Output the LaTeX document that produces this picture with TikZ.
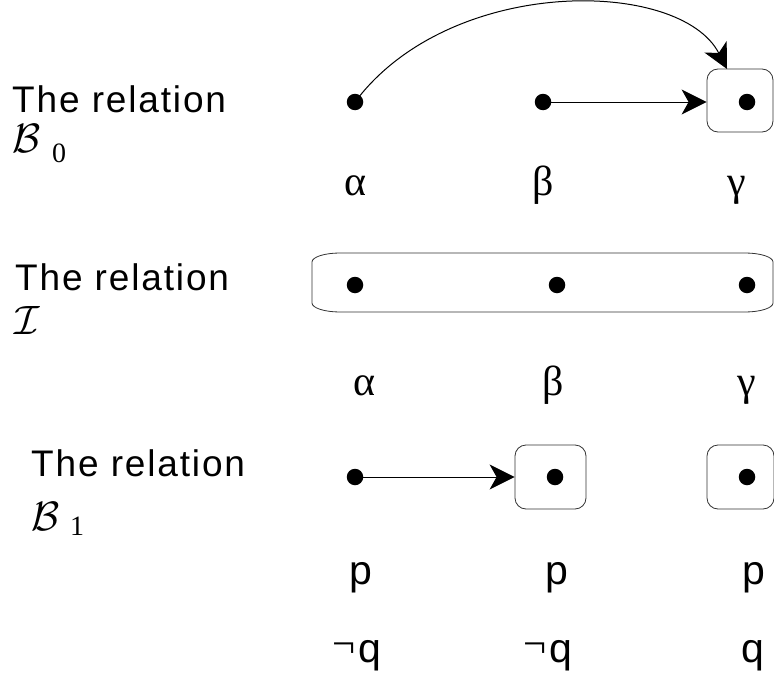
\RequirePackage{fix-cm}
\documentclass[tikz,border=0pt]{standalone}
\usepackage{fontspec}
\setmainfont{Liberation Sans}
\newfontfamily\grk{Liberation Serif}
\newfontfamily\relfont[LetterSpace=5]{Liberation Sans}
\usetikzlibrary{arrows.meta}
\tikzset{
  dot/.style={circle,fill=black,inner sep=0pt,minimum size=16.5pt},
  relt/.style={font=\relfont\fontsize{37}{40}\selectfont,anchor=base west,inner sep=0pt,text depth=0pt},
  calt/.style={font=\fontsize{41}{44}\selectfont,anchor=base west,inner sep=0pt,text height=24pt},
  subt/.style={font=\grk\fontsize{28}{30}\selectfont,anchor=base west,inner sep=0pt},
  glab/.style={font=\grk\fontsize{42}{46}\selectfont,anchor=base,inner sep=0pt},
  plab/.style={font=\fontsize{41}{44}\selectfont,anchor=base,inner sep=0pt},
  sbox/.style={draw=black!80,line width=0.8pt,rounded corners=11pt,inner sep=0pt},
  arr/.style={line width=1pt,-{Stealth[length=25pt,width=25pt,inset=7pt]}},
}
\newcommand{\negq}{{\grk\raisebox{5pt}{¬}}\kern3pt q}
\begin{document}
\begin{tikzpicture}[x=1pt,y=-1pt]
\useasboundingbox (0,0) rectangle (774,677);
% row 1
\node[relt] (t0) at (12,112) {The relation};
\node[calt] (m0) at (12,152) {$\mathcal{B}$};
\node[subt] (s0) at (52,162) {0};
\node[dot] (a0) at (355,102) {};
\node[dot] (b0) at (543,102) {};
\node[dot] (c0) at (747,102) {};
\node[sbox,minimum width=66pt,minimum height=63pt] (g0) at (740,100.5) {};
\coordinate (g0t) at (727,69);
\draw[arr] (b0.center) -- (b0.center -| g0.west);
\draw[arr] (a0.center) .. controls (450,-25) and (680,-22) .. (g0t);
\node[glab] (la0) at (355,195) {α};
\node[glab] (lb0) at (543,195) {β};
\node[glab] (lc0) at (737,195) {γ};
% row 2
\node[relt] (t1) at (15,290) {The relation};
\node[calt] (m1) at (14,334) {$\mathcal{I}$};
\draw[draw=black!80,line width=0.8pt] (312,262) arc[start angle=180,end angle=270,x radius=28,y radius=9]
  -- (745,253) arc[start angle=270,end angle=360,x radius=28,y radius=9]
  -- (773,303) arc[start angle=0,end angle=90,x radius=28,y radius=9]
  -- (340,312) arc[start angle=90,end angle=180,x radius=28,y radius=9] -- cycle;
\node[dot] (a1) at (355,285) {};
\node[dot] (b1) at (557,285) {};
\node[dot] (c1) at (747,285) {};
\node[glab] (la1) at (364,395) {α};
\node[glab] (lb1) at (553,395) {β};
\node[glab] (lc1) at (747,395) {γ};
% row 3
\node[relt] (t2) at (31,476) {The relation};
\node[calt] (m2) at (31,530) {$\mathcal{B}$};
\node[subt] (s2) at (70,535) {1};
\node[dot] (a2) at (355,477) {};
\node[dot] (b2) at (555,477) {};
\node[dot] (c2) at (747,477) {};
\node[sbox,minimum width=71pt,minimum height=64pt] (h1) at (550.5,477) {};
\node[sbox,minimum width=67pt,minimum height=64pt] (h2) at (740.5,477) {};
\draw[arr] (a2.center) -- (a2.center -| h1.west);
\node[plab] (p0) at (361,584) {p};
\node[plab] (p1) at (557,584) {p};
\node[plab] (p2) at (754,584) {p};
\node[plab] (q0) at (357,662) {\negq};
\node[plab] (q1) at (548,662) {\negq};
\node[plab] (q2) at (753,662) {q};
\end{tikzpicture}
\end{document}
